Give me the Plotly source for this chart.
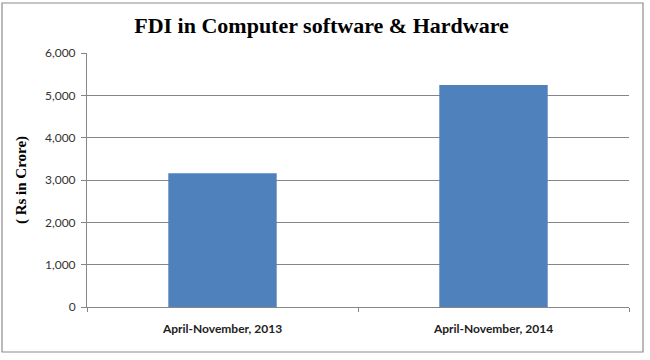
import plotly.graph_objects as go

categories = ["April-November, 2013", "April-November, 2014"]
values = [3160, 5245]
y_ticks = [0, 1000, 2000, 3000, 4000, 5000, 6000]
y_tick_labels = ["0", "1,000", "2,000", "3,000", "4,000", "5,000", "6,000"]

W, H = 650, 360
ml, mr, mt, mb = 87, 21, 53, 53
pw, ph = W - ml - mr, H - mt - mb

def px_x(x):
    return (x - ml) / pw

def px_y(y):
    return (H - mb - y) / ph

fig = go.Figure(go.Bar(
    x=categories, y=values,
    marker=dict(color="#4F81BD", line=dict(width=0)),
    width=0.40,
))

fig.update_layout(
    width=W, height=H,
    margin=dict(l=ml, r=mr, t=mt, b=mb, autoexpand=False),
    paper_bgcolor="white", plot_bgcolor="white",
    showlegend=False,
    title=dict(text="<b>FDI in Computer software &amp; Hardware</b>",
               x=321.5 / W, xref="container", xanchor="center",
               y=1 - 25 / H, yref="container", yanchor="middle",
               font=dict(family="Liberation Serif", size=22, color="black")),
    shapes=[dict(type="rect", xref="paper", yref="paper",
                 x0=px_x(2), x1=px_x(643), y0=px_y(352), y1=px_y(3),
                 line=dict(color="#8c8c8c", width=1.2), fillcolor="rgba(0,0,0,0)",
                 layer="below")],
)

fig.update_yaxes(
    range=[0, 6000], tickvals=y_ticks, ticktext=y_tick_labels,
    showgrid=True, gridcolor="#868686", gridwidth=1,
    showline=True, linecolor="#868686", linewidth=1,
    ticks="outside", ticklen=5, tickcolor="#868686",
    ticklabelstandoff=3,
    tickfont=dict(family="Lato", size=12, color="#333333"),
    zeroline=False, automargin=False,
    title=dict(text="<b>( Rs in Crore)</b>", standoff=14,
               font=dict(family="Liberation Serif", size=15, color="black")),
)

fig.update_xaxes(
    showline=True, linecolor="#868686", linewidth=1,
    ticks="outside", ticklen=4, tickcolor="#868686", tickson="boundaries",
    ticklabelstandoff=11, automargin=False,
    tickfont=dict(family="Lato", size=12, color="#222222", weight="bold"),
    showgrid=False,
)

fig.write_html("out.html", config={"displayModeBar": False},
               post_script="document.body.style.margin='0';document.body.style.padding='0';")
